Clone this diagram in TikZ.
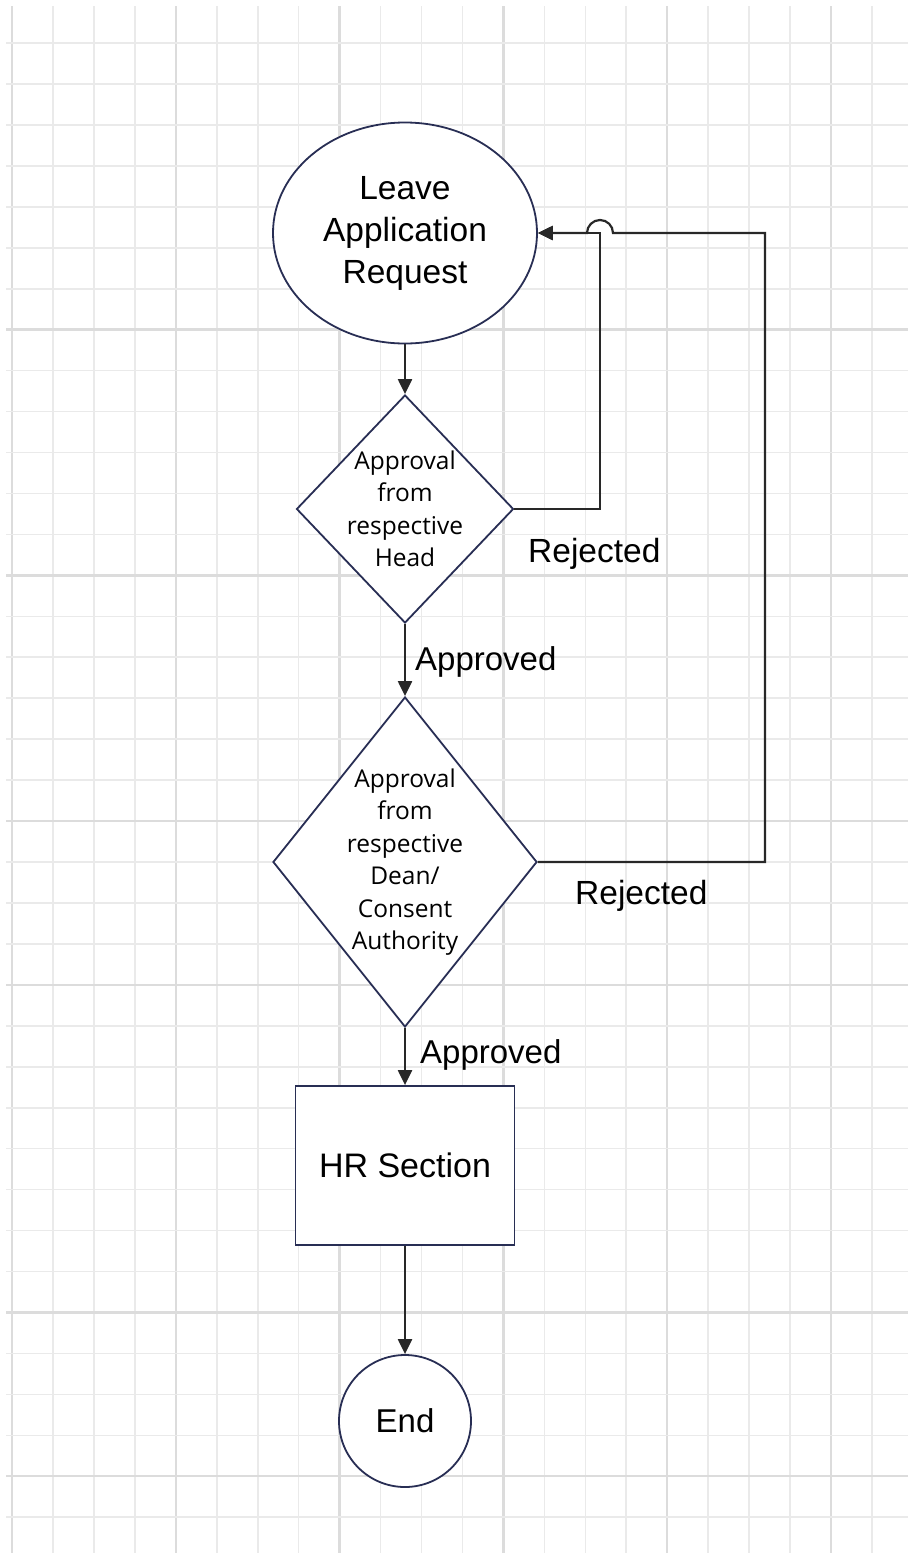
\documentclass[tikz,border=0pt]{standalone}
\usepackage{fontspec}
\setmainfont{Liberation Sans}
\newfontfamily\segoe{Open Sans}
\usetikzlibrary{shapes.geometric,arrows.meta}
\definecolor{navy}{RGB}{40,46,84}
\definecolor{connc}{RGB}{40,40,40}
\definecolor{gridmin}{RGB}{234,234,234}
\definecolor{gridmaj}{RGB}{220,220,220}
\begin{document}
\begin{tikzpicture}[x=1pt,y=-1pt,
  shapeline/.style={draw=navy,line width=1.8pt,fill=white,inner sep=0pt},
  bigtext/.style={font=\fontsize{33.5}{42}\selectfont,align=center,text=black},
  dtext/.style={font=\segoe\fontsize{24.5}{32.5}\selectfont,align=center,inner sep=0pt,text=black},
  lbl/.style={font=\fontsize{33}{38}\selectfont,inner sep=0pt,anchor=base west,text=black},
  conn/.style={draw=connc,line width=2.2pt,-{Triangle[length=15pt,width=14pt]}},
  gminor/.style={draw=gridmin,line width=1.6pt},
  gmajor/.style={draw=gridmaj,line width=2.4pt}]
\fill[white] (0,0) rectangle (908,1553);
\useasboundingbox (0,0) rectangle (908,1553);
% grid
\foreach \i in {0,...,21}{
  \pgfmathtruncatemacro\m{mod(\i,4)}
  \ifnum\m=0 \def\gs{gmajor}\else\def\gs{gminor}\fi
  \draw[\gs] ({12+40.95*\i},6) -- ({12+40.95*\i},1553);
}
\foreach \k in {0,...,36}{
  \draw[gminor] (6,{43+40.95*\k}) -- (908,{43+40.95*\k});
}
\foreach \k in {7,13,19,23,31,35}{
  \draw[gmajor] (6,{43+40.95*\k}) -- (908,{43+40.95*\k});
}
% nodes
\node[ellipse,shapeline,minimum width=264,minimum height=221,bigtext] (start) at (405,233) {Leave\\Application\\Request};
\node[diamond,shapeline,minimum width=217,minimum height=228] (d1) at (405,509) {};
\node[dtext] (d1t) at (d1.center) {Approval\\from\\respective\\Head};
\node[diamond,shapeline,minimum width=264,minimum height=330] (d2) at (405,862) {};
\node[dtext] (d2t) at (d2.center) {Approval\\from\\respective\\Dean/\\Consent\\Authority};
\node[rectangle,shapeline,minimum width=219,minimum height=159,bigtext,font=\fontsize{34}{40}\selectfont] (hr) at (405,1165.5) {HR Section};
\node[circle,shapeline,minimum size=132,bigtext,font=\fontsize{33}{40}\selectfont] (end) at (405,1421) {End};
% connectors
\draw[conn] (start.south) -- (d1.north);
\draw[conn] (d1.south) -- (d2.north);
\draw[conn] (d2.south) -- (hr.north);
\draw[conn] (hr.south) -- (end.north);
\coordinate (r1) at (600,233);
\coordinate (r2) at (765,233);
\coordinate (jr) at (613,233);
\draw[conn] (d1.east) -| (r1) -- (start.east);
\draw[conn] (d2.east) -| (r2) -- (jr) arc (0:-180:13) -- (start.east);
% labels
\node[lbl] (ap1) at (415,670) {Approved};
\node[lbl] (ap2) at (420,1063) {Approved};
\node[lbl,font=\fontsize{33.5}{38}\selectfont] (rj1) at (528,562) {Rejected};
\node[lbl,font=\fontsize{33.5}{38}\selectfont] (rj2) at (575,904) {Rejected};
\end{tikzpicture}
\end{document}
